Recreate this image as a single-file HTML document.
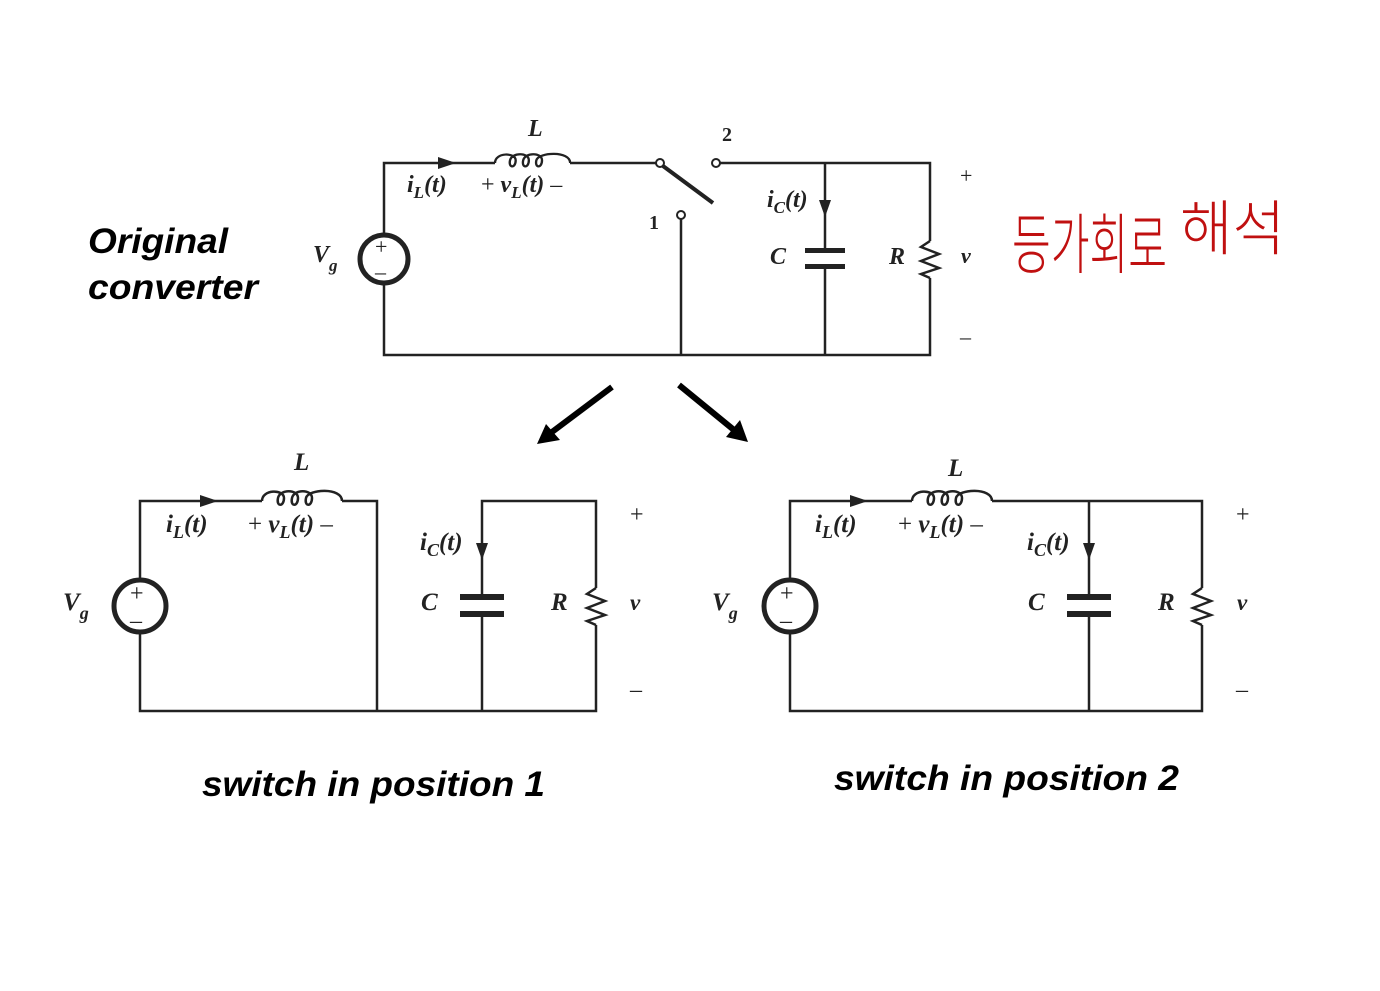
<!DOCTYPE html>
<html><head><meta charset="utf-8"><style>
html,body{margin:0;padding:0;background:#fff;}
svg{display:block}
.w{stroke:#222;stroke-width:2.5;fill:none}
.t{font-family:"Liberation Serif",serif;font-style:italic;font-weight:bold;fill:#222}
.p{font-family:"Liberation Serif",serif;fill:#222}
.h{font-family:"Liberation Sans",sans-serif;font-style:italic;font-weight:bold;fill:#000}
</style></head><body>
<svg width="1380" height="991" viewBox="0 0 1380 991" xmlns="http://www.w3.org/2000/svg">
<defs>
<path id="ind" d="M0,0 C0,-12 22,-12 22,-3 C22,6 14,6 16,-3 C18,-12 36,-12 36,-3 C36,6 28,6 30,-3 C32,-12 50,-12 50,-3 C50,6 42,6 44,-3 C46,-12 80,-14 80,0" style="stroke:#222;stroke-width:2.5;fill:none"/>
</defs>

<!-- TOP CIRCUIT -->
<path class="w" d="M384,235 V163 H495 M570,163 H657 M384,283 V355 H930 V278 M930,241 V163 H719 M681,218 V355 M825,163 V250 M825,268 V355"/>
<use href="#ind" transform="translate(495,163) scale(0.94,0.9)"/>
<circle cx="384" cy="259" r="24" fill="none" stroke="#222" stroke-width="5"/>
<text x="375" y="254" class="p" font-size="22">+</text>
<text x="375" y="279" class="p" font-size="22">–</text>
<polygon points="438,157 456,163 438,169" fill="#222"/>
<circle cx="660" cy="163" r="4" fill="#fff" stroke="#222" stroke-width="2"/>
<circle cx="716" cy="163" r="4" fill="#fff" stroke="#222" stroke-width="2"/>
<circle cx="681" cy="215" r="4" fill="#fff" stroke="#222" stroke-width="2"/>
<line x1="663" y1="166" x2="713" y2="203" stroke="#222" stroke-width="4"/>
<polygon points="819,200 831,200 825,217" fill="#222"/>
<rect x="805" y="248" width="40" height="5" fill="#222"/>
<rect x="805" y="264" width="40" height="5" fill="#222"/>
<path class="w" d="M930,241 L921,247 L939,254 L921,261 L939,268 L921,274 L930,278"/>
<text x="528" y="136" class="t" font-size="24">L</text>
<text x="722" y="141" class="p" font-size="20" font-weight="bold">2</text>
<text x="649" y="229" class="p" font-size="20" font-weight="bold">1</text>
<text x="407" y="192" class="t" font-size="24">i<tspan font-size="17" dy="6">L</tspan><tspan dy="-6">(t)</tspan></text>
<text x="481" y="192" class="t" font-size="24"><tspan font-style="normal" font-weight="normal">+ </tspan>v<tspan font-size="17" dy="6">L</tspan><tspan dy="-6">(t)</tspan><tspan font-style="normal" font-weight="normal"> –</tspan></text>
<text x="767" y="207" class="t" font-size="24">i<tspan font-size="17" dy="6">C</tspan><tspan dy="-6">(t)</tspan></text>
<text x="313" y="262" class="t" font-size="24">V<tspan font-size="17" dy="9">g</tspan></text>
<text x="770" y="264" class="t" font-size="24">C</text>
<text x="889" y="264" class="t" font-size="24">R</text>
<text x="961" y="263" class="t" font-size="22">v</text>
<text x="960" y="183" class="p" font-size="22">+</text>
<text x="960" y="344" class="p" font-size="22">–</text>
<text x="88" y="253" class="h" font-size="35" textLength="140" lengthAdjust="spacingAndGlyphs">Original</text>
<text x="88" y="299" class="h" font-size="35" textLength="170" lengthAdjust="spacingAndGlyphs">converter</text>
<text x="1012" y="268" font-family="'Noto Sans CJK KR',sans-serif" font-size="66" font-weight="300" fill="#c01010" textLength="155" lengthAdjust="spacingAndGlyphs">등가회로</text>
<text x="1180" y="250" font-family="'Noto Sans CJK KR',sans-serif" font-size="60" font-weight="300" fill="#c01010" textLength="105" lengthAdjust="spacingAndGlyphs">해석</text>

<!-- ARROWS -->
<line x1="612" y1="387" x2="552" y2="432" stroke="#000" stroke-width="6"/>
<polygon points="537,444 546,424 560,440" fill="#000"/>
<line x1="679" y1="385" x2="734" y2="430" stroke="#000" stroke-width="6"/>
<polygon points="748,442 726,437 740,420" fill="#000"/>

<!-- BOTTOM LEFT -->
<path class="w" d="M140,579 V501 H262 M342,501 H377 V711 M140,633 V711 H596 V625 M596,588 V501 H482 V596 M482,616 V711"/>
<use href="#ind" transform="translate(262,501)"/>
<circle cx="140" cy="606" r="26" fill="none" stroke="#222" stroke-width="5"/>
<text x="130" y="601" class="p" font-size="24">+</text>
<text x="130" y="628" class="p" font-size="24">–</text>
<polygon points="200,495 218,501 200,507" fill="#222"/>
<polygon points="476,543 488,543 482,560" fill="#222"/>
<rect x="460" y="594" width="44" height="6" fill="#222"/>
<rect x="460" y="611" width="44" height="6" fill="#222"/>
<path class="w" d="M596,588 L587,594 L605,601 L587,608 L605,615 L587,621 L596,625"/>
<text x="294" y="470" class="t" font-size="25">L</text>
<text x="166" y="532" class="t" font-size="25">i<tspan font-size="18" dy="6">L</tspan><tspan dy="-6">(t)</tspan></text>
<text x="248" y="532" class="t" font-size="25"><tspan font-style="normal" font-weight="normal">+ </tspan>v<tspan font-size="18" dy="6">L</tspan><tspan dy="-6">(t)</tspan><tspan font-style="normal" font-weight="normal"> –</tspan></text>
<text x="420" y="550" class="t" font-size="25">i<tspan font-size="18" dy="6">C</tspan><tspan dy="-6">(t)</tspan></text>
<text x="63" y="610" class="t" font-size="25">V<tspan font-size="18" dy="9">g</tspan></text>
<text x="421" y="610" class="t" font-size="25">C</text>
<text x="551" y="610" class="t" font-size="25">R</text>
<text x="630" y="610" class="t" font-size="23">v</text>
<text x="630" y="522" class="p" font-size="24">+</text>
<text x="630" y="697" class="p" font-size="24">–</text>
<text x="202" y="796" class="h" font-size="35" textLength="343" lengthAdjust="spacingAndGlyphs">switch in position 1</text>

<!-- BOTTOM RIGHT -->
<path class="w" d="M790,579 V501 H912 M992,501 H1202 V588 M1202,625 V711 H790 V633 M1089,501 V596 M1089,616 V711"/>
<use href="#ind" transform="translate(912,501)"/>
<circle cx="790" cy="606" r="26" fill="none" stroke="#222" stroke-width="5"/>
<text x="780" y="601" class="p" font-size="24">+</text>
<text x="780" y="628" class="p" font-size="24">–</text>
<polygon points="850,495 868,501 850,507" fill="#222"/>
<polygon points="1083,543 1095,543 1089,560" fill="#222"/>
<rect x="1067" y="594" width="44" height="6" fill="#222"/>
<rect x="1067" y="611" width="44" height="6" fill="#222"/>
<path class="w" d="M1202,588 L1193,594 L1211,601 L1193,608 L1211,615 L1193,621 L1202,625"/>
<text x="948" y="476" class="t" font-size="25">L</text>
<text x="815" y="532" class="t" font-size="25">i<tspan font-size="18" dy="6">L</tspan><tspan dy="-6">(t)</tspan></text>
<text x="898" y="532" class="t" font-size="25"><tspan font-style="normal" font-weight="normal">+ </tspan>v<tspan font-size="18" dy="6">L</tspan><tspan dy="-6">(t)</tspan><tspan font-style="normal" font-weight="normal"> –</tspan></text>
<text x="1027" y="550" class="t" font-size="25">i<tspan font-size="18" dy="6">C</tspan><tspan dy="-6">(t)</tspan></text>
<text x="712" y="610" class="t" font-size="25">V<tspan font-size="18" dy="9">g</tspan></text>
<text x="1028" y="610" class="t" font-size="25">C</text>
<text x="1158" y="610" class="t" font-size="25">R</text>
<text x="1237" y="610" class="t" font-size="23">v</text>
<text x="1236" y="522" class="p" font-size="24">+</text>
<text x="1236" y="697" class="p" font-size="24">–</text>
<text x="834" y="790" class="h" font-size="35" textLength="345" lengthAdjust="spacingAndGlyphs">switch in position 2</text>
</svg>
</body></html>
